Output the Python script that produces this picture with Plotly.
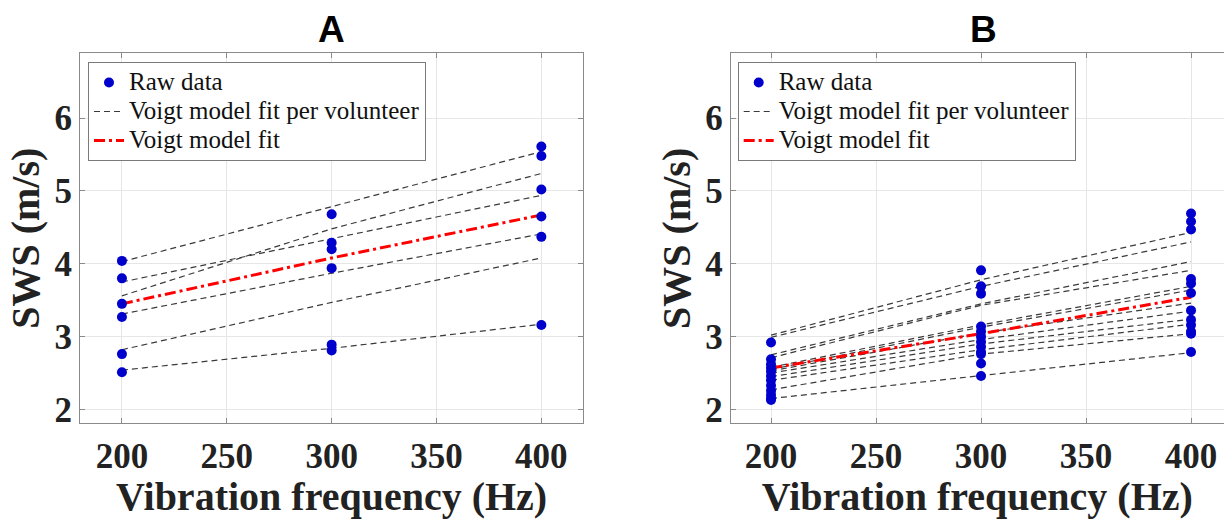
import plotly.graph_objects as go

# ---------------- data ----------------
freq = [200, 300, 400]

# Panel A raw data (SWS, m/s)
a_raw_200 = [4.04, 3.80, 3.45, 3.27, 2.76, 2.51]
a_raw_300 = [4.68, 4.29, 4.20, 3.94, 2.89, 2.81]
a_raw_400 = [5.61, 5.48, 5.02, 4.65, 4.37, 3.16]

# Panel A Voigt fit per volunteer (values at 200, 300, 400 Hz)
a_fit_volunteers = [
    [4.03, 4.79, 5.54],
    [3.56, 4.48, 5.24],
    [3.75, 4.35, 4.94],
    [3.31, 3.87, 4.41],
    [2.82, 3.47, 4.08],
    [2.54, 2.84, 3.17],
]
a_fit_group = [3.45, 4.08, 4.67]

# Panel B raw data
b_raw_200 = [2.92, 2.69, 2.62, 2.57, 2.52, 2.46, 2.40, 2.33, 2.26, 2.20, 2.15, 2.13]
b_raw_300 = [3.91, 3.69, 3.59, 3.14, 3.07, 3.00, 2.93, 2.86, 2.79, 2.76, 2.63, 2.46]
b_raw_400 = [4.69, 4.58, 4.47, 3.79, 3.73, 3.60, 3.36, 3.23, 3.16, 3.07, 3.04, 2.79]

# Panel B Voigt fit per volunteer
b_fit_volunteers = [
    [3.02, 3.78, 4.43],
    [2.99, 3.69, 4.30],
    [2.75, 3.45, 4.03],
    [2.71, 3.43, 3.91],
    [2.58, 3.16, 3.69],
    [2.55, 3.13, 3.64],
    [2.53, 3.05, 3.46],
    [2.50, 2.96, 3.35],
    [2.45, 2.90, 3.24],
    [2.40, 2.82, 3.17],
    [2.27, 2.76, 3.04],
    [2.15, 2.47, 2.78],
]
b_fit_group = [2.57, 3.04, 3.54]

x_ticks = [200, 250, 300, 350, 400]
y_ticks = [2, 3, 4, 5, 6]
panel_titles = ["A", "B"]
legend_labels = ["Raw data", "Voigt model fit per volunteer", "Voigt model fit"]

# ---------------- figure ----------------
W, H = 1224, 519
fig = go.Figure()

SERIF = "Liberation Serif, Times New Roman, serif"
BLUE = "#0000cc"


def lab(t):
    return '<span style="font-size:25px">' + t + '</span>'


def add_panel(xa, ya, legend, raw_lists, fits, group):
    for i, f in enumerate(fits):
        fig.add_trace(go.Scatter(
            x=freq, y=f, mode="lines", xaxis=xa, yaxis=ya,
            line=dict(color="#3a3a3a", width=1.2, dash="6px,4px"),
            name=lab(legend_labels[1]), legendgroup=legend + "v",
            showlegend=(i == 0), legend=legend, legendrank=2))
    fig.add_trace(go.Scatter(
        x=freq, y=group, mode="lines", xaxis=xa, yaxis=ya,
        line=dict(color="#ff0000", width=3, dash="11px,4px,3px,4px"),
        name=lab(legend_labels[2]), legend=legend, legendrank=3))
    xs, ys = [], []
    for fr, vals in zip(freq, raw_lists):
        xs += [fr] * len(vals)
        ys += vals
    fig.add_trace(go.Scatter(
        x=xs, y=ys, mode="markers", xaxis=xa, yaxis=ya,
        marker=dict(color=BLUE, size=10),
        name=lab(legend_labels[0]), legend=legend, legendrank=1))


add_panel("x", "y", "legend", [a_raw_200, a_raw_300, a_raw_400], a_fit_volunteers, a_fit_group)
add_panel("x2", "y2", "legend2", [b_raw_200, b_raw_300, b_raw_400], b_fit_volunteers, b_fit_group)

tickfont = dict(family=SERIF, size=35, color="#222222", weight="bold")
titlefont = dict(family=SERIF, size=40, color="#222222", weight="bold")
AXC = "#8a8a8a"

common = dict(showline=True, linecolor=AXC, linewidth=1, ticks="inside", ticklen=5,
              tickcolor=AXC, showgrid=True, gridcolor="#e6e6e6", gridwidth=1,
              zeroline=False, tickfont=tickfont, automargin=False)

ytop = 1 - 53.3 / H
ybot = 1 - 423.3 / H

legend_common = dict(y=1 - 62 / H, xanchor="left", yanchor="top",
                     bgcolor="white", bordercolor="#7a7a7a", borderwidth=1,
                     font=dict(family=SERIF, size=20, color="#111111"),
                     tracegroupgap=0, itemwidth=30)

fig.update_layout(
    width=W, height=H, margin=dict(l=0, r=0, t=0, b=0, autoexpand=False),
    plot_bgcolor="white", paper_bgcolor="white",
    xaxis=dict(domain=[80 / W, 583.3 / W], range=[180, 420], tickvals=x_ticks,
               mirror="ticks", anchor="y", ticklabelstandoff=2,
               title=dict(text="Vibration frequency (Hz)", font=titlefont, standoff=16), **common),
    yaxis=dict(domain=[ybot, ytop], range=[1.81, 6.89], tickvals=y_ticks,
               mirror="ticks", anchor="x", ticklabelstandoff=0,
               title=dict(text="SWS (m/s)", font=titlefont, standoff=2), **common),
    xaxis2=dict(domain=[730.7 / W, 1.0], range=[180.8, 415.7], tickvals=x_ticks,
                mirror="ticks", anchor="y2", ticklabelstandoff=2,
                title=dict(text="Vibration frequency (Hz)", font=titlefont, standoff=16), **common),
    yaxis2=dict(domain=[ybot, ytop], range=[1.81, 6.89], tickvals=y_ticks,
                mirror=False, anchor="x2", ticklabelstandoff=0,
                title=dict(text="SWS (m/s)", font=titlefont, standoff=2), **common),
    legend=dict(x=88 / W, **legend_common),
    legend2=dict(x=737.7 / W, **legend_common),
)

for t, xc in zip(panel_titles, [331.5 / W, 983 / W]):
    fig.add_annotation(text=t, x=xc, y=1 - 30 / H, xref="paper", yref="paper",
                       showarrow=False, xanchor="center", yanchor="middle",
                       font=dict(family="Liberation Sans, Arial, sans-serif", size=37,
                                 color="black", weight="bold"))

fig.write_html(
    "out.html",
    config={"displayModeBar": False},
    post_script="document.documentElement.style.margin='0';document.body.style.margin='0';"
                "document.body.style.padding='0';document.body.style.overflow='hidden';",
)
